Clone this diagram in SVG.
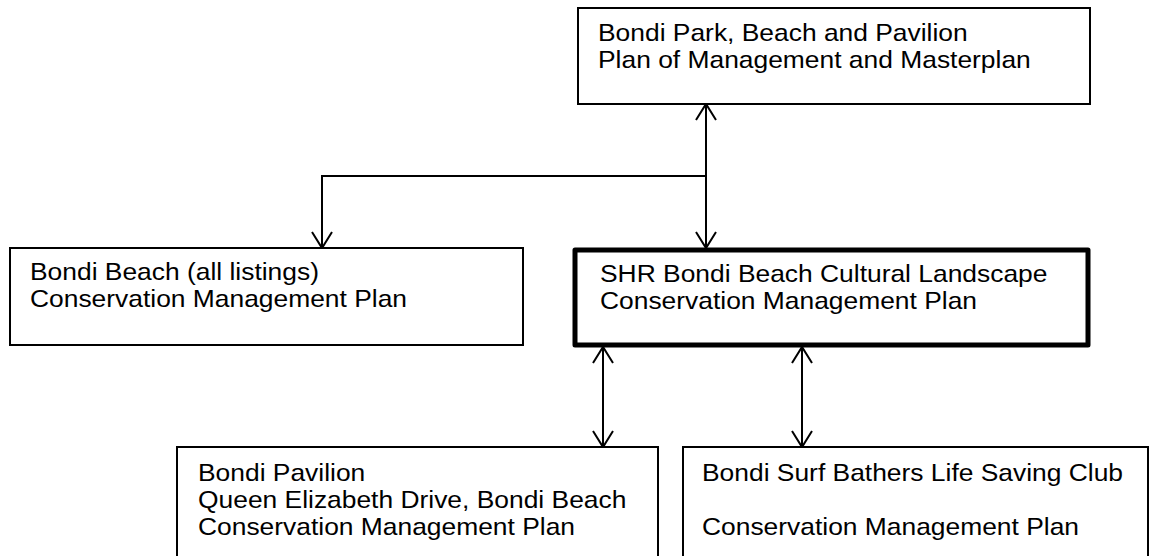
<svg xmlns="http://www.w3.org/2000/svg" width="1155" height="556" viewBox="0 0 1155 556">
<defs>
<style>
.box{fill:#fff;stroke:#000;stroke-width:2}
.thick{fill:#fff;stroke:#000;stroke-width:5;stroke-linejoin:round}
.t{font-family:"Liberation Sans",Arial,sans-serif;font-size:24px;fill:#000}
.c{fill:none;stroke:#000;stroke-width:2}
</style>
<marker id="ah" viewBox="0 0 20 22" refX="17" refY="11" markerWidth="20" markerHeight="22" markerUnits="userSpaceOnUse" orient="auto-start-reverse">
<path d="M1,1 L17,11 L1,21" fill="none" stroke="#000" stroke-width="2"/>
</marker>
</defs>
<rect width="1155" height="556" fill="#fff"/>
<g id="connectors">
<path class="c" d="M706,104 L706,248" marker-start="url(#ah)" marker-end="url(#ah)"/>
<path class="c" d="M706,176 L322,176 L322,248" marker-end="url(#ah)"/>
<path class="c" d="M603,347 L603,447" marker-start="url(#ah)" marker-end="url(#ah)"/>
<path class="c" d="M802,347 L802,447" marker-start="url(#ah)" marker-end="url(#ah)"/>
</g>
<g id="top">
<rect class="box" x="578" y="8" width="512" height="96"/>
<text class="t" transform="translate(598,41) scale(1.1,1)">Bondi Park, Beach and Pavilion</text>
<text class="t" transform="translate(598,68) scale(1.1,1)">Plan of Management and Masterplan</text>
</g>
<g id="left">
<rect class="box" x="10" y="248" width="513" height="97"/>
<text class="t" transform="translate(30,280) scale(1.1,1)">Bondi Beach (all listings)</text>
<text class="t" transform="translate(30,307) scale(1.1,1)">Conservation Management Plan</text>
</g>
<g id="center">
<rect class="thick" x="575" y="250" width="513" height="95"/>
<text class="t" transform="translate(600,282) scale(1.1,1)">SHR Bondi Beach Cultural Landscape</text>
<text class="t" transform="translate(600,309) scale(1.1,1)">Conservation Management Plan</text>
</g>
<g id="bottomleft">
<rect class="box" x="177" y="447" width="481" height="120"/>
<text class="t" transform="translate(198,481) scale(1.1,1)">Bondi Pavilion</text>
<text class="t" transform="translate(198,508) scale(1.1,1)">Queen Elizabeth Drive, Bondi Beach</text>
<text class="t" transform="translate(198,535) scale(1.1,1)">Conservation Management Plan</text>
</g>
<g id="bottomright">
<rect class="box" x="683" y="447" width="465" height="120"/>
<text class="t" transform="translate(702,481) scale(1.1,1)">Bondi Surf Bathers Life Saving Club</text>
<text class="t" transform="translate(702,535) scale(1.1,1)">Conservation Management Plan</text>
</g>
</svg>
